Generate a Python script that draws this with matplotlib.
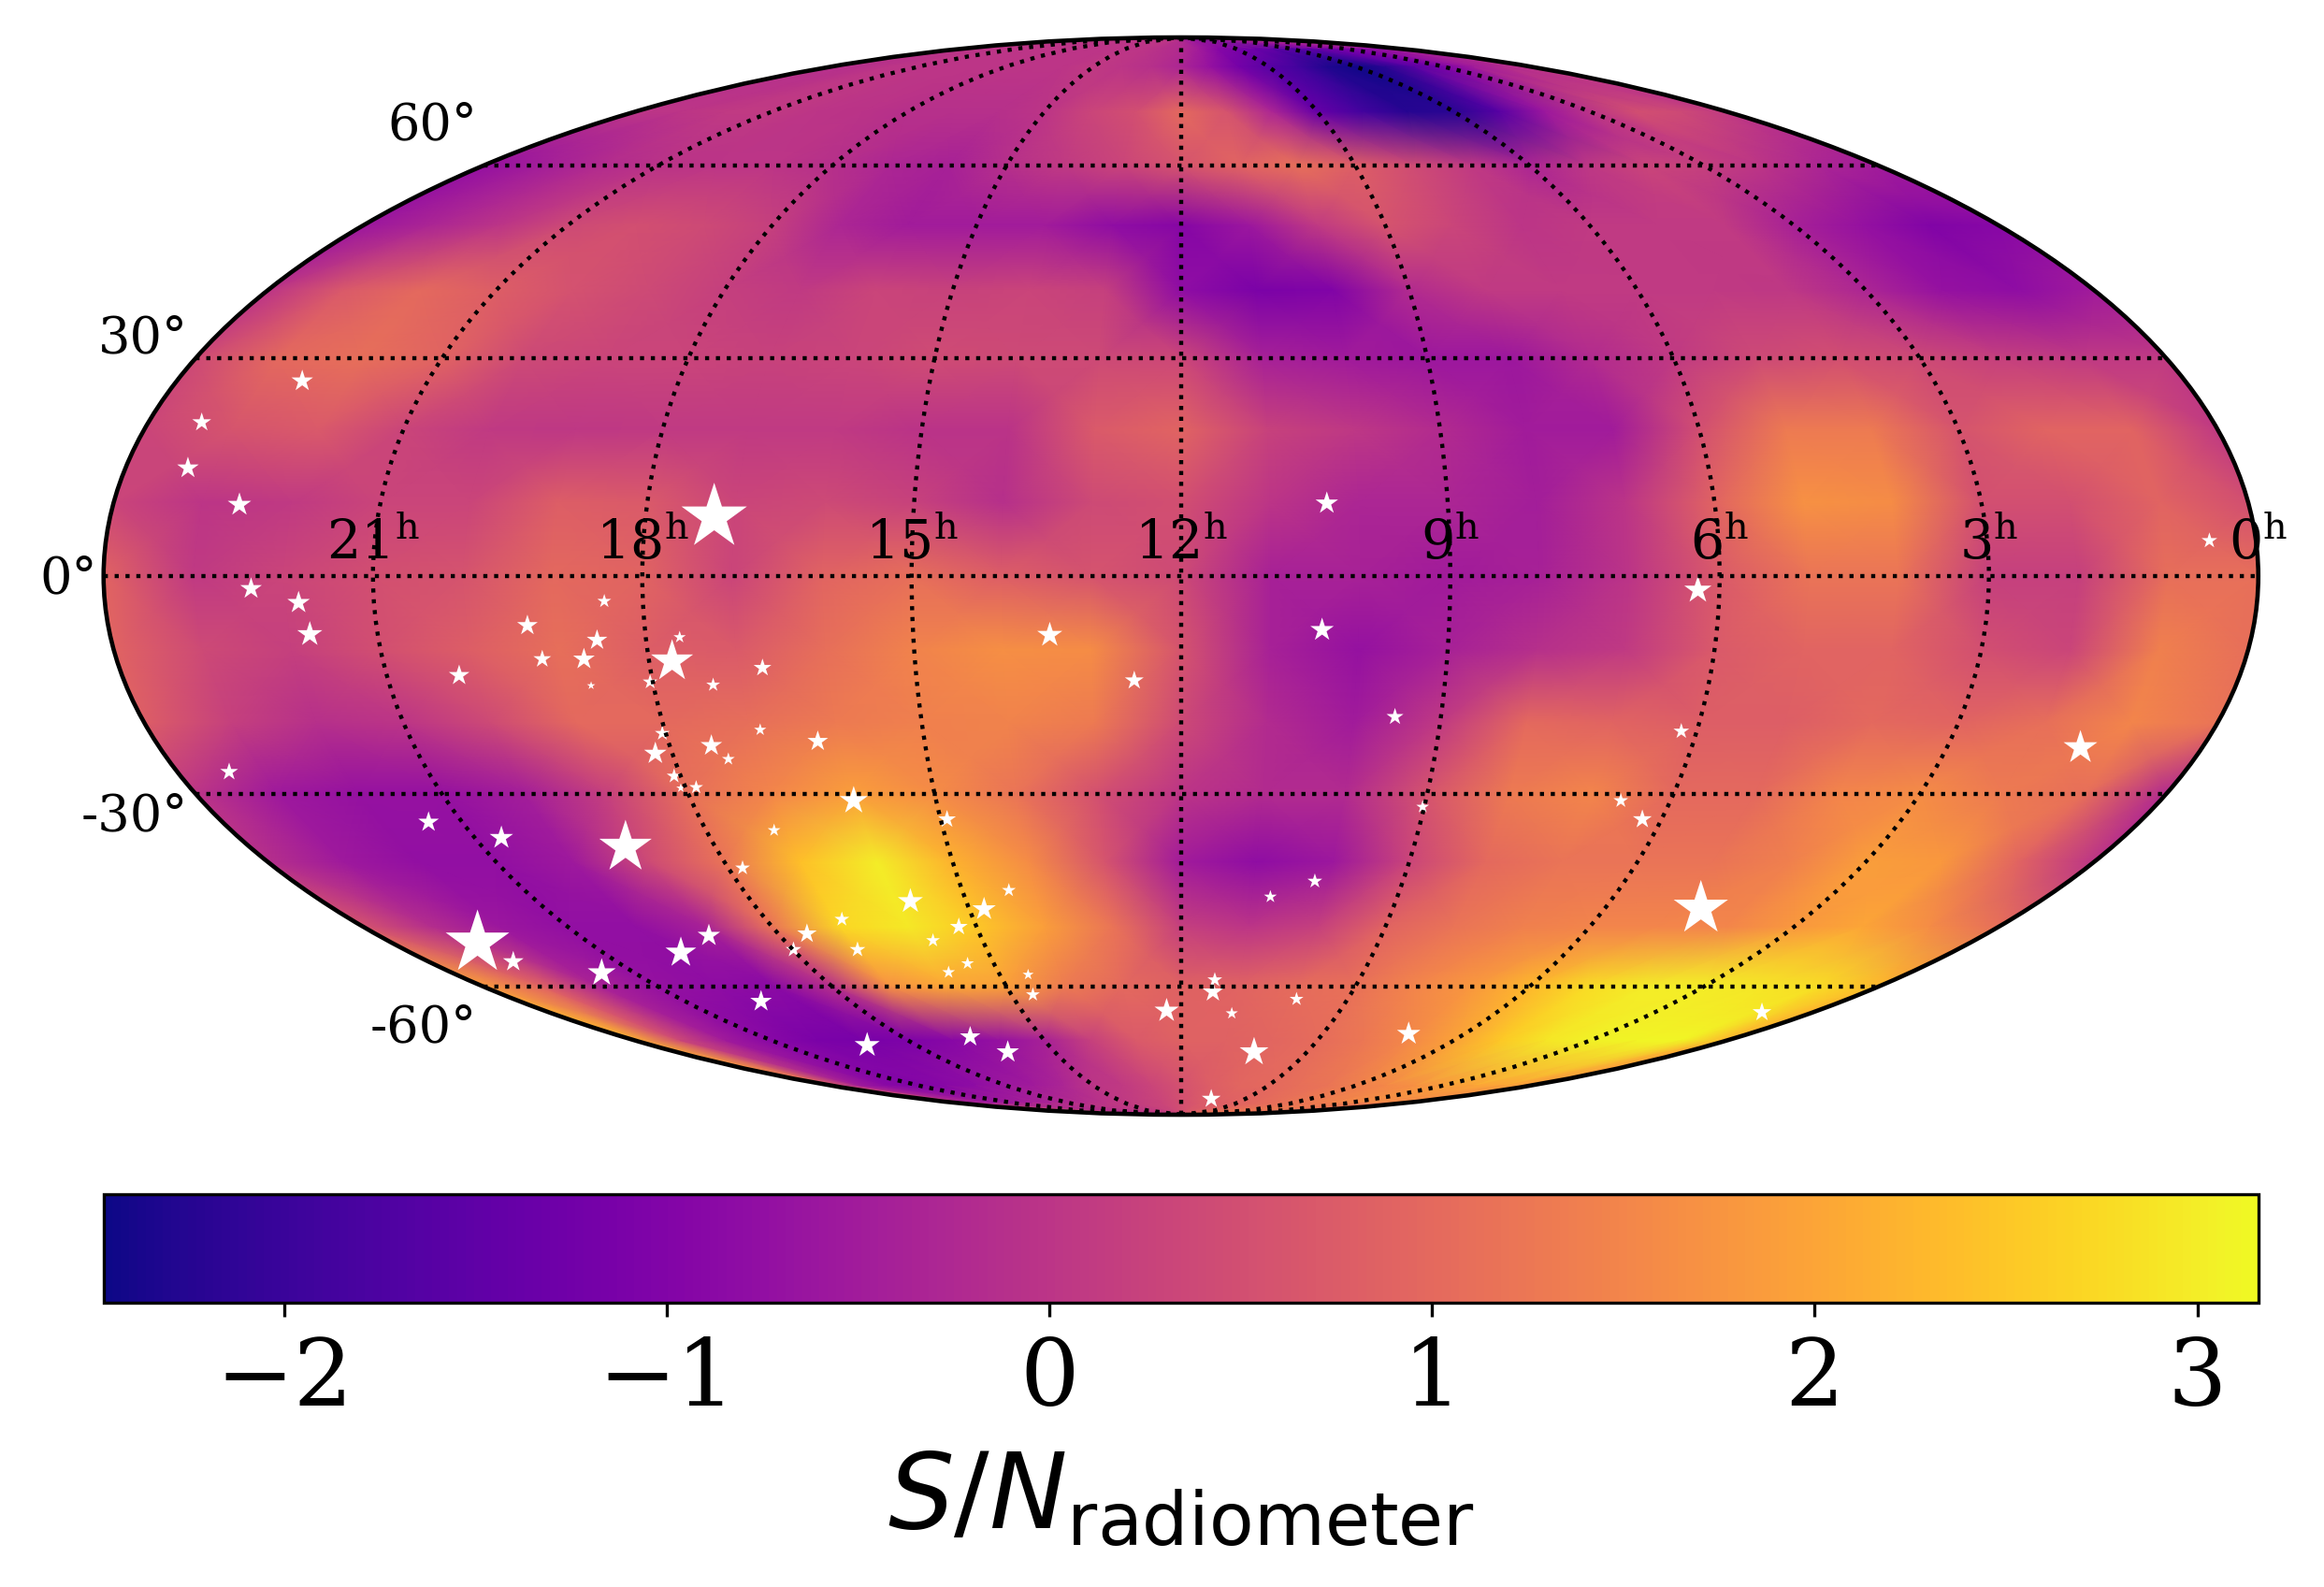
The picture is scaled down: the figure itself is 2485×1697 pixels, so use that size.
import numpy as np
import matplotlib
matplotlib.use("Agg")
import matplotlib.pyplot as plt

plt.rcParams['font.family'] = ['DejaVu Serif']

W, H = 2485, 1697

# sky map, rows north to south, columns 24h (left) to 0h (right) every 1h
dec_rows = [90, 85, 80, 70, 60, 50, 40, 30, 20, 10, 0, -10, -20, -30, -40, -50, -60, -70, -80, -85, -90]
ra_cols = np.arange(24, -1, -1)
snr = np.array([
    [0, 0, 0, 0, 0, 0, 0, 0, 0, 0, 0, -.1, -.2, -.3, -.3, -.3, -.3, -.3, -.3, -.3, -.3, -.3, -.3, -.3, -.3],
    [0, 0, 0, 0, 0, 0, 0, 0, 0, 0, 0, -.1, -.2, -.5, -.9, -1.1, -1.3, -1.5, -1.6, -1.5, -1.3, -1.1, -.9, -.7, -.5],
    [-.1, -.1, 0, 0, 0, 0, 0, 0, 0, .1, 0, -.1, -.3, -.7, -1.2, -1.6, -1.9, -2.3, -2.45, -2.2, -1.6, -1.1, -.5, -.2, 0],
    [0, 0, .1, .1, 0, -.05, -.1, -.1, -.1, 0, .3, .5, 1.0, .6, -.3, -1.4, -1.9, -2.25, -2.2, -1.6, -.6, 0, .5, .4, .1],
    [-.7, -.45, -.2, -.05, 0, 0, -.1, -.3, -.4, -.1, .1, .3, .6, .9, 1.1, .8, .45, .1, -.3, .05, .3, .2, 0, -.3, -.5],
    [-.6, -.3, 0, .4, .5, .4, .2, -.3, -.5, -.5, -.5, -.8, -.95, -.6, .1, .6, .3, 0, .1, .1, .1, -.4, -.7, -1.0, -.9],
    [0, .7, 1.0, .8, .55, .4, .2, .1, .3, .25, .3, .2, -.8, -1.1, -1.0, -.2, .1, .1, .1, .1, .05, -.3, -.7, -.8, -.5],
    [.4, 1.0, 1.1, .9, .4, .3, .3, .25, .3, .45, .4, .4, .35, -.4, -.5, -.6, -.6, -.2, .1, .4, .5, .4, .2, .1, .1],
    [.3, .6, .7, .3, .1, .05, .1, .1, .1, -.05, -.05, .7, .9, .25, .05, -.2, -.5, -.5, .5, 1.3, 1.3, .6, .9, .9, .1],
    [.3, 0, .1, .3, .3, .8, .7, .3, .4, .25, -.1, .4, .5, 0, -.3, -.3, -.45, 0, .9, 1.7, 1.6, .5, .5, .9, .5],
    [.9, .1, .3, .5, .6, 1.0, .9, .3, .9, 1.1, .8, .6, .4, -.4, -.4, -.5, -.4, 0, .7, 1.2, 1.2, .2, .2, 1.1, 1.1],
    [.9, .4, .2, .5, .8, 1.1, .8, .7, 1.1, 1.45, 1.65, 1.6, .6, -.4, -.7, -.4, -.1, .1, .7, .9, .9, .5, .3, 1.4, 1.1],
    [.8, .2, -.1, 0, .4, 1.0, 1.0, 1.1, 1.3, 1.4, 1.45, 1.3, .4, -.2, -.5, .1, 1.0, .9, .8, .8, 1.0, .9, 1.1, 1.5, 1.2],
    [0, -.55, -.7, -.7, -.45, .2, 1.1, 1.5, 1.9, 1.6, 1.2, .5, 0, -.2, -.2, .6, 1.3, 1.5, 1.0, 1.0, 1.5, 1.6, 1.3, 1.1, -.2],
    [-.1, -.55, -.75, -.75, -.55, .4, 1.2, 2.4, 3.0, 2.2, 1.6, .6, -.5, -.8, -.6, .3, 1.0, 1.2, 1.2, 1.2, 1.4, 1.9, 1.8, .9, 0],
    [.6, -.15, -.6, -.75, -.75, -.4, 1.2, 2.7, 2.95, 2.5, 1.9, 1.2, .2, 0, .2, .9, 1.2, 1.4, 1.5, 1.5, 1.5, 1.8, 2.0, 1.6, 1.1],
    [1.9, .9, -.35, -.7, -.8, -.85, -.1, 1.7, 2.0, 1.9, 1.3, 1.0, .85, .9, 1.05, 1.15, 1.5, 1.8, 2.3, 2.8, 3.0, 3.0, 2.9, 2.8, 2.3],
    [2.2, .4, -.5, -.9, -1.1, -1.15, -1.05, -.9, -.7, -.4, .2, .7, .85, .85, .95, 1.05, 1.25, 1.55, 1.95, 2.5, 2.9, 3.05, 3.1, 3.1, 2.2],
    [1.0, -.5, -.9, -1, -.9, -.8, -.6, -.5, -.3, 0, .1, .3, .55, .8, .95, 1, 1.1, 1.2, 1.4, 1.55, 1.7, 1.9, 2, 2, 1.8],
    [.2, -.3, -.5, -.5, -.4, -.3, -.2, -.1, 0, .1, .2, .3, .5, .7, .8, .9, 1, 1.1, 1.2, 1.3, 1.4, 1.5, 1.5, 1.5, 1.4],
    [.2, .2, .2, .2, .2, .2, .2, .2, .2, .2, .3, .4, .5, .6, .7, .8, .9, 1, 1, 1, 1, 1, 1, 1, 1],
])

# pulsars: right ascension (h), declination (deg), marker area
star_ra = [22.50, 23.38, 23.29, 22.58, 17.23, 22.36, 21.84, 21.76, 20.18, 19.31, 18.43, 18.55, 19.20, 18.73,
           18.71, 17.62, 17.74, 18.03, 16.73, 17.32, 16.89, 18.04, 17.51, 18.20, 17.36, 16.25, 18.08, 17.87,
           18.06, 23.38, 21.42, 20.66, 19.16, 17.14, 17.81, 19.06, 19.79, 17.57, 17.99, 22.70, 22.65, 21.54,
           19.62, 16.01, 13.47, 12.53, 10.42, 9.53, 14.92, 9.02, 14.36, 14.79, 15.78, 15.26, 15.75, 16.90,
           17.00, 15.42, 15.82, 14.53, 14.62, 10.19, 10.76, 11.43, 11.44, 12.27, 11.03, 9.92, 10.26, 7.19,
           10.60, 19.11, 16.53, 16.12, 6.24, 0.52, 6.18, 1.43, 6.61, 6.24, 4.64, 0.97, 10.36]
star_dec = [26.8, 21.0, 14.7, 9.7, 8.0, -1.7, -3.6, -7.9, -13.5, -6.7, -3.4, -8.7, -11.3, -11.3,
            -14.9, -8.3, -11.6, -14.4, -12.5, -14.8, -21.0, -21.5, -23.2, -24.3, -25.1, -22.6, -27.5, -29.1,
            -29.2, -26.9, -34.1, -36.4, -37.8, -35.3, -40.9, -51.4, -54.2, -51.1, -53.7, -52.6, -55.7, -57.6,
            -62.6, -31.0, -8.0, -14.2, -7.3, -19.2, -33.7, -31.9, -44.3, -47.2, -46.0, -50.0, -52.2, -48.8,
            -53.7, -56.0, -57.5, -57.9, -61.4, -42.9, -45.3, -58.8, -60.9, -64.3, -64.8, -62.2, -72.4, -68.7,
            -83.7, -71.0, -69.3, -72.4, -1.9, 4.8, -21.2, -23.5, -31.0, -33.7, -47.1, -64.6, 9.9]
star_area = [34, 26, 34, 40, 312, 34, 37, 46, 31, 31, 14, 31, 23, 34,
             5, 11, 129, 16, 23, 14, 11, 16, 34, 37, 12, 31, 16, 14,
             6, 23, 31, 40, 200, 12, 16, 37, 69, 28, 18, 295, 31, 57,
             34, 57, 46, 26, 40, 21, 23, 12, 14, 40, 46, 23, 14, 16,
             18, 12, 12, 9, 14, 16, 12, 16, 31, 43, 11, 14, 61, 40,
             26, 46, 31, 37, 54, 18, 18, 83, 16, 26, 215, 26, 37]

ra_labels = [21, 18, 15, 12, 9, 6, 3, 0]
dec_labels = ['60°', '30°', '0°', '-30°', '-60°']
dec_label_px = [(510, 134), (201, 362), (104, 619), (201, 873), (510, 1099)]


def ra_to_lon(ra):
    return np.radians(180 - 15 * np.asarray(ra, dtype=float))


fig = plt.figure(figsize=(W / 300, H / 300), dpi=300)
ax = fig.add_axes([110.5 / W, 1 - 1192 / H, 2304.5 / W, 1152 / H], projection='mollweide')

# one extra column past each limb so the mesh fills the ellipse
lon = np.r_[ra_to_lon(ra_cols)[0] - 0.26, ra_to_lon(ra_cols), ra_to_lon(ra_cols)[-1] + 0.26]
lat = np.radians(dec_rows)
vals = np.c_[snr[:, 0], snr, snr[:, -1]]
mesh = ax.pcolormesh(lon, lat, vals, shading='gouraud', cmap='plasma', vmin=-2.473, vmax=3.16)

ax.scatter(ra_to_lon(star_ra), np.radians(star_dec), s=star_area, marker='*', c='white', linewidths=0)

ax.set_longitude_grid(45)
ax.set_latitude_grid(30)
ax.set_longitude_grid_ends(90)
ax.grid(True, color='k', linestyle=':', linewidth=1.05)
ax.xaxis.set_ticklabels([])
ax.yaxis.set_ticklabels([])
for s in ax.spines.values():
    s.set_linewidth(1.1)

for ra in ra_labels:
    ax.annotate('%d$^{\\mathrm{h}}$' % ra, (ra_to_lon(ra), 0), xytext=(0, 1.5), textcoords='offset points',
                ha='center', va='bottom', fontsize=13.7, math_fontfamily='dejavuserif', annotation_clip=False)
for text, (px, py) in zip(dec_labels, dec_label_px):
    fig.text(px / W, 1 - py / H, text, ha='right', va='center', fontsize=13)

cax = fig.add_axes([110.5 / W, 1 - 1393 / H, 2304.5 / W, 116 / H])
cbar = fig.colorbar(mesh, cax=cax, orientation='horizontal')
cbar.set_ticks([-2, -1, 0, 1, 2, 3])
cbar.ax.tick_params(labelsize=24, pad=5)
cbar.set_label(r'$S/N_{\rm radiometer}$', fontsize=26.8, labelpad=6)

fig.savefig('out.png', dpi=300)
